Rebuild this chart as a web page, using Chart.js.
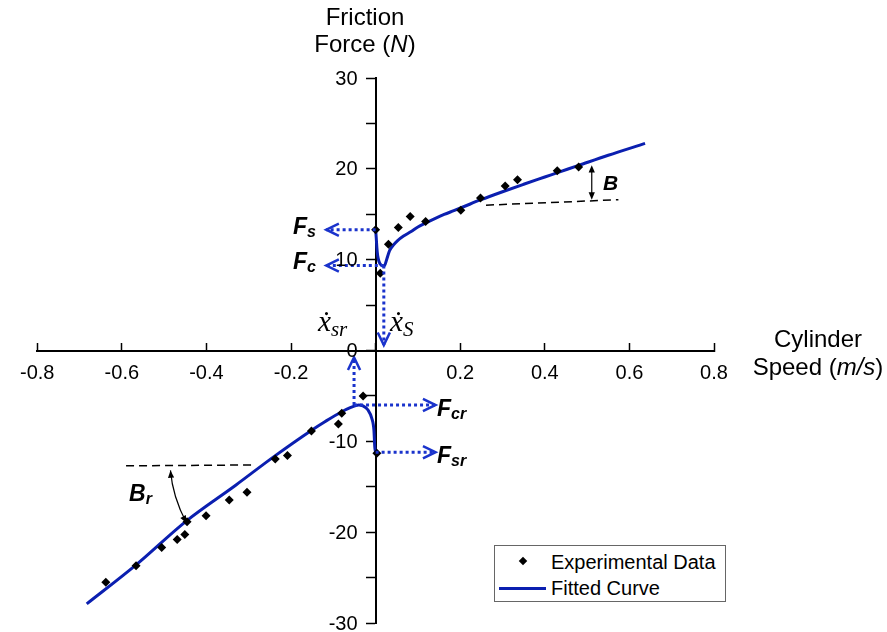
<!DOCTYPE html>
<html>
<head>
<meta charset="utf-8">
<script src="https://cdn.jsdelivr.net/npm/chart.js@4.4.0/dist/chart.umd.min.js"></script>
<style>
  html, body { margin: 0; padding: 0; background: #fff; }
  #wrap { position: relative; width: 887px; height: 632px; overflow: hidden; font-family: "Liberation Sans", Arial, sans-serif; color: #000; }
  #chart { position: absolute; left: 0; top: 0; }
  .lbl { position: absolute; white-space: nowrap; line-height: 1; }
  .ttl { position: absolute; text-align: center; font-size: 24px; line-height: 27px; white-space: nowrap; }
  .f { font-weight: bold; font-style: italic; font-size: 23px; }
  .f span { font-size: 16px; vertical-align: -3px; }
  .xd { font-family: "Liberation Serif", "DejaVu Serif", serif; font-style: italic; font-size: 29px; }
  .xd span { font-size: 21px; vertical-align: -5px; }
  #legend { position: absolute; left: 494px; top: 545px; width: 230px; height: 55px; border: 1px solid #666; background: #fff; font-size: 20px; }
  #legend .row { position: absolute; left: 56px; line-height: 20px; white-space: nowrap; }
  #legend .dia { position: absolute; left: 25px; top: 12px; width: 6px; height: 6px; background: #000; transform: rotate(45deg); }
  #legend .ln { position: absolute; left: 4px; top: 41px; width: 47px; height: 3px; background: #0b1fb0; }
</style>
</head>
<body>
<div id="wrap">
  <canvas id="chart" width="887" height="632"></canvas>

  <div class="ttl" style="left:290px; top:3px; width:150px;">Friction<br>Force (<i>N</i>)</div>
  <div class="ttl" style="left:738px; top:325px; width:160px; line-height:28px;">Cylinder<br>Speed (<i>m/s</i>)</div>

  <div class="lbl f" style="left:293px; top:215px;">F<span>s</span></div>
  <div class="lbl f" style="left:293px; top:250px;">F<span>c</span></div>
  <div class="lbl f" style="left:437px; top:397px;">F<span>cr</span></div>
  <div class="lbl f" style="left:437px; top:444px;">F<span>sr</span></div>
  <div class="lbl f" style="left:603px; top:172px; font-size:21px;">B</div>
  <div class="lbl f" style="left:129px; top:482px; font-size:23px;">B<span>r</span></div>
  <div class="lbl xd" style="left:318px; top:307px;">ẋ<span>sr</span></div>
  <div class="lbl xd" style="left:390px; top:307px;">ẋ<span>S</span></div>

  <div id="legend">
    <div class="dia"></div>
    <div class="row" style="top:6px;">Experimental Data</div>
    <div class="ln"></div>
    <div class="row" style="top:32px;">Fitted Curve</div>
  </div>
</div>

<script>
// experimental points (cylinder speed m/s, friction force N)
const expX = [0, 0.011, 0.0303, 0.0537, 0.0817, 0.1183, 0.2014, 0.248, 0.3064, 0.3354, 0.4294, 0.480, 0.003,
  -0.0296, -0.080, -0.088, -0.1517, -0.2084, -0.2373, -0.304, -0.346, -0.4009, -0.4457, -0.4511, -0.4691, -0.5057, -0.5664, -0.6378];
const expY = [13.3, 8.5, 11.7, 13.55, 14.75, 14.2, 15.45, 16.8, 18.1, 18.8, 19.8, 20.2, -11.3,
  -5.0, -6.9, -8.1, -8.85, -11.55, -11.95, -15.6, -16.45, -18.2, -18.85, -20.25, -20.8, -21.7, -23.7, -25.5];

// fitted curve, positive speed branch
const fitPosX = [0, 0.0015, 0.003, 0.005, 0.008, 0.012, 0.017, 0.021, 0.026, 0.033, 0.042, 0.052, 0.066, 0.084, 0.1, 0.119, 0.14, 0.162, 0.185, 0.205, 0.249, 0.3, 0.35, 0.4, 0.43, 0.48, 0.55, 0.637];
const fitPosY = [13.3, 12.4, 11.3, 10.4, 9.8, 9.45, 9.3, 9.35, 10.0, 11.0, 11.6, 12.1, 12.6, 13.1, 13.6, 14.05, 14.52, 14.98, 15.4, 15.77, 16.6, 17.48, 18.3, 19.1, 19.58, 20.38, 21.5, 22.8];

// fitted curve, negative speed branch
const fitNegX = [-0.683, -0.5664, -0.447, -0.33, -0.238, -0.152, -0.12, -0.08, -0.06, -0.049, -0.04, -0.03, -0.018, -0.009, -0.004, -0.002, 0];
const fitNegY = [-27.9, -23.6, -18.75, -14.8, -11.6, -8.8, -7.84, -6.74, -6.3, -6.1, -6.0, -6.1, -6.55, -7.47, -8.76, -10.6, -11.2];

const yTickLabels = [30, 20, 10, 0, -10, -20, -30];

// guide arrows: [x0, y0, x1, y1], arrow head at the second point
const dottedArrows = [
  [0, 13.3, -0.1167, 13.3],
  [0.0194, 9.35, -0.1167, 9.35],
  [0.0194, 9.35, 0.0194, 0.6],
  [-0.051, -6.0, -0.051, -0.75],
  [-0.051, -6.0, 0.1417, -6.0],
  [0, -11.2, 0.1417, -11.2]
];
const dashedLines = [
  [0.261, 16.0, 0.574, 16.6],
  [-0.59, -12.7, -0.287, -12.6]
];
const slopeArrowB = [0.511, 20.4, 0.511, 16.6];
const slopeArrowBr = [-0.485, -13.2, -0.480, -16.1, -0.447, -19.0]; // start, control, end

const curveBlue = '#0b1fb0';
const guideBlue = '#1a33cc';

function toPts(xs, ys) {
  return xs.map((x, i) => ({ x: x, y: ys[i] }));
}

function chevron(ctx, x, y, ang, len) {
  ctx.beginPath();
  ctx.moveTo(x - len * Math.cos(ang - 0.45), y - len * Math.sin(ang - 0.45));
  ctx.lineTo(x, y);
  ctx.lineTo(x - len * Math.cos(ang + 0.45), y - len * Math.sin(ang + 0.45));
  ctx.stroke();
}

function solidHead(ctx, x, y, ang, len) {
  ctx.beginPath();
  ctx.moveTo(x, y);
  ctx.lineTo(x - len * Math.cos(ang - 0.4), y - len * Math.sin(ang - 0.4));
  ctx.lineTo(x - len * Math.cos(ang + 0.4), y - len * Math.sin(ang + 0.4));
  ctx.closePath();
  ctx.fill();
}

const guides = {
  id: 'guides',
  afterDatasetsDraw(chart) {
    const ctx = chart.ctx;
    const sx = chart.scales.x, sy = chart.scales.y;
    const px = v => sx.getPixelForValue(v), py = v => sy.getPixelForValue(v);
    ctx.save();

    // blue dotted arrows
    ctx.strokeStyle = guideBlue;
    dottedArrows.forEach(a => {
      const x0 = px(a[0]), y0 = py(a[1]), x1 = px(a[2]), y1 = py(a[3]);
      ctx.lineWidth = 3;
      ctx.setLineDash([3, 3]);
      ctx.beginPath();
      ctx.moveTo(x0, y0);
      ctx.lineTo(x1, y1);
      ctx.stroke();
      ctx.setLineDash([]);
      ctx.lineWidth = 2.5;
      chevron(ctx, x1, y1, Math.atan2(y1 - y0, x1 - x0), 14);
    });

    // black dashed reference lines
    ctx.strokeStyle = '#000';
    ctx.lineWidth = 1.5;
    ctx.setLineDash([8, 5]);
    dashedLines.forEach(a => {
      ctx.beginPath();
      ctx.moveTo(px(a[0]), py(a[1]));
      ctx.lineTo(px(a[2]), py(a[3]));
      ctx.stroke();
    });
    ctx.setLineDash([]);

    // B double arrow
    ctx.fillStyle = '#000';
    ctx.lineWidth = 1.2;
    const bx = px(slopeArrowB[0]), by0 = py(slopeArrowB[1]), by1 = py(slopeArrowB[3]);
    ctx.beginPath();
    ctx.moveTo(bx, by0 + 4);
    ctx.lineTo(bx, by1 - 4);
    ctx.stroke();
    solidHead(ctx, bx, by0, -Math.PI / 2, 8);
    solidHead(ctx, bx, by1, Math.PI / 2, 8);

    // Br curved double arrow
    const c = slopeArrowBr;
    const ax = px(c[0]), ay = py(c[1]), cx = px(c[2]), cy = py(c[3]), ex = px(c[4]), ey = py(c[5]);
    ctx.beginPath();
    ctx.moveTo(ax, ay);
    ctx.quadraticCurveTo(cx, cy, ex, ey);
    ctx.stroke();
    solidHead(ctx, ax, ay, Math.atan2(ay - cy, ax - cx), 8);
    solidHead(ctx, ex, ey, Math.atan2(ey - cy, ex - cx), 8);

    ctx.restore();
  },
  afterDraw(chart) {
    // y tick labels, left of the centred axis
    const ctx = chart.ctx;
    const sx = chart.scales.x, sy = chart.scales.y;
    const axisX = sx.getPixelForValue(0);
    ctx.save();
    ctx.fillStyle = '#000';
    ctx.font = '20px "Liberation Sans", Arial, sans-serif';
    ctx.textAlign = 'right';
    ctx.textBaseline = 'middle';
    yTickLabels.forEach(v => {
      ctx.fillText(String(v), axisX - 18, sy.getPixelForValue(v) + 1);
    });
    ctx.restore();
  }
};

new Chart(document.getElementById('chart'), {
  type: 'scatter',
  data: {
    datasets: [
      {
        label: 'Experimental Data',
        data: toPts(expX, expY),
        pointStyle: 'rectRot',
        pointRadius: 4.5,
        backgroundColor: '#000',
        borderColor: '#000',
        borderWidth: 0,
        order: 0
      },
      {
        label: 'Fitted Curve',
        type: 'line',
        data: toPts(fitPosX, fitPosY),
        borderColor: curveBlue,
        borderWidth: 3,
        pointRadius: 0,
        fill: false,
        cubicInterpolationMode: 'monotone',
        order: 1
      },
      {
        label: 'Fitted Curve',
        type: 'line',
        data: toPts(fitNegX, fitNegY),
        borderColor: curveBlue,
        borderWidth: 3,
        pointRadius: 0,
        fill: false,
        cubicInterpolationMode: 'monotone',
        order: 1
      }
    ]
  },
  options: {
    responsive: false,
    animation: false,
    layout: { padding: { left: 28, right: 173, top: 78, bottom: 9 } },
    plugins: { legend: { display: false }, tooltip: { enabled: false } },
    scales: {
      x: {
        type: 'linear',
        min: -0.8,
        max: 0.8,
        position: { y: 0 },
        ticks: {
          stepSize: 0.2,
          padding: 20,
          color: '#000',
          font: { family: '"Liberation Sans", Arial, sans-serif', size: 20 },
          callback: v => Math.abs(v) < 1e-9 ? '' : String(+v.toFixed(1))
        },
        grid: { drawOnChartArea: false, drawTicks: true, tickLength: -9, tickWidth: 1.5, tickColor: '#000' },
        border: { color: '#000', width: 2 }
      },
      y: {
        type: 'linear',
        min: -30,
        max: 30,
        position: { x: 0 },
        ticks: { stepSize: 5, display: false, font: { size: 19, lineHeight: 0.9 } },
        grid: { drawOnChartArea: false, drawTicks: true, tickLength: 9, tickWidth: 1.5, tickColor: '#000' },
        border: { color: '#000', width: 2 }
      }
    }
  },
  plugins: [guides]
});
</script>
</body>
</html>
